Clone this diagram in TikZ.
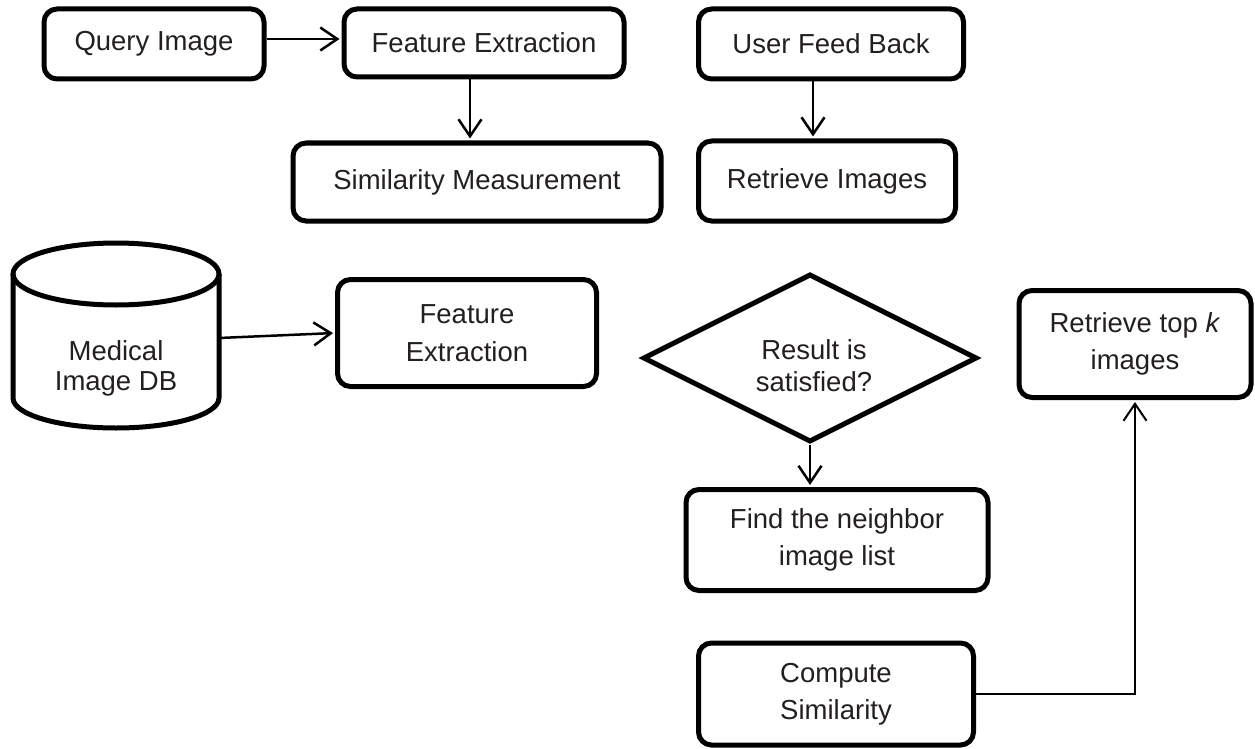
\documentclass[tikz,border=0pt]{standalone}
\usepackage{fontspec}
\setmainfont{Liberation Sans}
\usetikzlibrary{arrows.meta,shapes.geometric}
\definecolor{txt}{RGB}{35,31,32}
\begin{document}
\begin{tikzpicture}[x=1pt,y=-1pt,
  box/.style={draw=black, line width=5pt, rounded corners=13pt, align=center,
    inner sep=0pt, font=\fontsize{27.5}{37.5}\selectfont, text=txt},
  lbl/.style={align=center, inner sep=0pt, text=txt},
  arr/.style={line width=2.5pt, shorten >=2pt, -{Straight Barb[length=17pt,width=23pt]}},
  thinarr/.style={line width=2pt, shorten >=2pt, -{Straight Barb[length=17pt,width=23pt]}},
]
\useasboundingbox (0,0) rectangle (1255,749);

% top row
\node[box, minimum width=220pt, minimum height=70pt] (qi) at (154,44) {Query Image};
\node[box, minimum width=280pt, minimum height=68pt] (fe1) at (484,43) {Feature Extraction};
\node[box, minimum width=265pt, minimum height=70pt] (ufb) at (831,44) {User Feed Back};

% second row
\node[box, minimum width=368pt, minimum height=78pt] (sm) at (477,182) {Similarity Measurement};
\node[box, minimum width=257pt, minimum height=80pt] (ri) at (827,181) {Retrieve Images};

% database cylinder
\draw[line width=5pt] (116,274) ellipse [x radius=103, y radius=31];
\draw[line width=5pt] (13,274) -- (13,398) arc[start angle=180, end angle=0, x radius=103, y radius=30] -- (219,274);
\node[lbl, font=\fontsize{27.5}{30}\selectfont] (db) at (116,368) {Medical\\Image DB};
\coordinate (dbR) at (219,338);

\node[box, minimum width=259pt, minimum height=107pt] (fe2) at (467,333) {Feature\\Extraction};

% decision
\node[draw=black, line width=5pt, diamond, minimum width=334pt, minimum height=168pt,
  inner sep=0pt] (dia) at (810,358) {};
\node[lbl, font=\fontsize{27.5}{32}\selectfont] (diat) at (814,366) {Result is\\satisfied?};

\node[box, minimum width=302pt, minimum height=101pt] (find) at (837,540) {Find the neighbor\\image list};
\node[box, minimum width=232pt, minimum height=107pt] (rtk) at (1135,344) {Retrieve top \textit{k}\\images};
\node[box, minimum width=275pt, minimum height=102pt] (cs) at (836,694) {Compute\\Similarity};

% helper coordinates
\coordinate (cy39) at (0,39);
\coordinate (cx470) at (470,0);
\coordinate (cx813) at (813,0);

% connectors
\draw[arr] (qi.east |- cy39) -- (fe1.west |- cy39);
\draw[arr] (fe1.south -| cx470) -- (sm.north -| cx470);
\draw[arr] (ufb.south -| cx813) -- (ri.north -| cx813);
\draw[arr] (dbR) -- (fe2.west);
\draw[arr] (dia.south) -- (find.north -| dia.south);
\draw[thinarr] (cs.east) -| (rtk.south);
\end{tikzpicture}
\end{document}
